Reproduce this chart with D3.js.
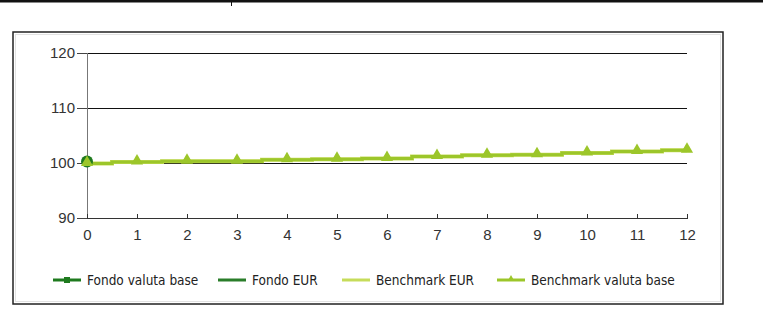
<!DOCTYPE html>
<html><head><meta charset="utf-8">
<script src="https://cdn.jsdelivr.net/npm/d3@7"></script>
<style>
body{margin:0;background:#fff;}
svg{display:block;font-family:"Liberation Sans Narrow","DejaVu Sans Condensed","Arial Narrow",sans-serif;}
</style></head>
<body><svg id="c" width="763" height="331"></svg>
<script>
const months = [0,1,2,3,4,5,6,7,8,9,10,11,12];
const yTicks = [90,100,110,120];
const benchmarkValutaBase = [99.9,100.2,100.3,100.3,100.6,100.7,100.8,101.2,101.4,101.5,101.8,102.1,102.3];
const benchmarkEUR = [99.9,100.2,100.3,100.3,100.6,100.7,100.8,101.2,101.4,101.5,101.8,102.1,102.3];
const fondoValutaBase = [100];
const fondoEUR = [100];
const legendLabels = ["Fondo valuta base","Fondo EUR","Benchmark EUR","Benchmark valuta base"];
const colDark = "#1e7a1e", colDark2 = "#2a7d2a", colLight = "#c6dc5a", colBench = "#9cc62a";

const svg = d3.select("#c");
// top decoration line
svg.append("line").attr("x1",0).attr("x2",763).attr("y1",1).attr("y2",1).attr("stroke","#111").attr("stroke-width",3);
svg.append("line").attr("x1",231.5).attr("x2",231.5).attr("y1",0).attr("y2",6).attr("stroke","#111").attr("stroke-width",1);
// frame
svg.append("rect").attr("x",13).attr("y",32).attr("width",710).attr("height",272)
  .attr("fill","#fff").attr("stroke","#222").attr("stroke-width",1.5);
svg.append("rect").attr("x",15.5).attr("y",34.5).attr("width",705).attr("height",267)
  .attr("fill","none").attr("stroke","#e2e2e2").attr("stroke-width",1);

const x = d3.scaleLinear().domain([0,12]).range([87,687]);
const y = d3.scaleLinear().domain([90,120]).range([218,53]);

// gridlines
svg.append("g").attr("shape-rendering","crispEdges").selectAll("line").data(yTicks.filter(d=>d>90)).join("line")
  .attr("x1",x(0)).attr("x2",x(12)).attr("y1",d=>y(d)).attr("y2",d=>y(d))
  .attr("stroke","#111").attr("stroke-width",1);

// axes
const yAxis = d3.axisLeft(y).tickValues(yTicks).tickSize(10).tickPadding(2);
const gy = svg.append("g").attr("transform",`translate(${x(0)},0)`).call(yAxis);
gy.attr("shape-rendering","crispEdges");
gy.select(".domain").attr("stroke","#777");
gy.selectAll(".tick line").attr("stroke","#444");
gy.selectAll("text").attr("font-size",15).attr("fill","#333");

const xAxis = d3.axisBottom(x).tickValues(months).tickSize(-4).tickPadding(11);
const gx = svg.append("g").attr("transform",`translate(0,${y(90)})`).call(xAxis);
gx.attr("shape-rendering","crispEdges");
gx.select(".domain").attr("stroke","#333");
gx.selectAll(".tick line").attr("stroke","#333");
gx.selectAll("text").attr("font-size",15).attr("fill","#333");

// series
const line = d3.line().x((d,i)=>x(months[i])).y(d=>y(d)).curve(d3.curveStep);
svg.append("path").datum(benchmarkEUR).attr("d",line).attr("fill","none").attr("stroke",colLight).attr("stroke-width",4);
svg.append("path").datum(benchmarkValutaBase).attr("d",line).attr("fill","none").attr("stroke",colBench).attr("stroke-width",3);
svg.append("g").selectAll("circle").data(fondoValutaBase).join("circle")
  .attr("cx",(d,i)=>x(months[i])).attr("cy",d=>y(d)-1.5).attr("r",6).attr("fill",colDark);
svg.append("path").datum(fondoEUR).attr("d",line).attr("fill","none").attr("stroke",colDark2).attr("stroke-width",2);
const tri = d3.symbol().type(d3.symbolTriangle).size(64);
svg.append("g").selectAll("path").data(benchmarkValutaBase).join("path")
  .attr("d",tri).attr("transform",(d,i)=>`translate(${x(months[i])},${y(d)-1})`).attr("fill",colBench);

// legend
const legX = [53,218,342,497];
const legCol = [colDark,colDark2,colLight,colBench];
const ly = 280;
legendLabels.forEach((t,i)=>{
  const g = svg.append("g");
  g.append("line").attr("x1",legX[i]).attr("x2",legX[i]+28).attr("y1",ly).attr("y2",ly)
    .attr("stroke",legCol[i]).attr("stroke-width",3);
  if(i===0) g.append("rect").attr("x",legX[i]+11).attr("y",ly-3).attr("width",6).attr("height",6).attr("fill",colDark);
  if(i===3) g.append("path").attr("d",d3.symbol().type(d3.symbolTriangle).size(20)).attr("transform",`translate(${legX[i]+14},${ly-1})`).attr("fill",colBench);
  g.append("text").attr("x",legX[i]+34).attr("y",ly).attr("dy","0.35em").attr("font-size",13.5).attr("fill","#222").text(t);
});
</script></body></html>
